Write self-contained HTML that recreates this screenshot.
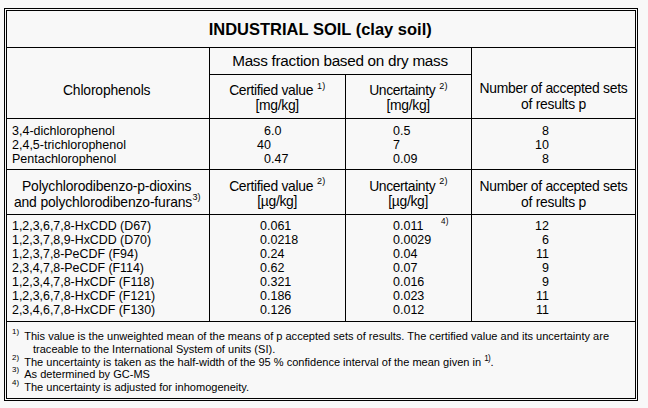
<!DOCTYPE html>
<html><head><meta charset="utf-8">
<style>
html,body{margin:0;padding:0;}
body{width:648px;height:408px;background:#f8f8f8;position:relative;overflow:hidden;font-family:"Liberation Sans",sans-serif;color:#000;}
.l{position:absolute;background:#000;}
.t{position:absolute;white-space:nowrap;}
.c{text-align:center;}
.r{text-align:right;}
.h{font-size:13.3px;line-height:15.5px;}
.h2{font-size:13.55px;line-height:15.7px;}
.d{font-size:12.5px;line-height:14px;}
.f{font-size:11.045px;line-height:12.7px;}
sup{font-size:9.05px;vertical-align:baseline;position:relative;top:-0.64em;line-height:0;margin-left:0.4px;letter-spacing:0.25px;}
.u sup{top:-6.8px;}
.f sup{font-size:7.9px;top:-6.1px;margin-left:0;letter-spacing:0;}
.ob{position:absolute;border:1px solid #000;box-sizing:border-box;}
</style></head><body>
<div class="ob" style="left:4px;top:8px;width:634px;height:393px;"></div>
<div class="ob" style="left:6px;top:10px;width:630px;height:389px;"></div>
<!-- horizontal lines -->
<div class="l" style="left:6px;top:47px;width:630px;height:1px;"></div>
<div class="l" style="left:209px;top:74px;width:263px;height:1px;"></div>
<div class="l" style="left:6px;top:118px;width:630px;height:1px;"></div>
<div class="l" style="left:6px;top:169px;width:630px;height:1px;"></div>
<div class="l" style="left:6px;top:214px;width:630px;height:1px;"></div>
<div class="l" style="left:6px;top:321px;width:630px;height:1px;"></div>
<!-- vertical lines -->
<div class="l" style="left:209px;top:47px;width:1px;height:275px;"></div>
<div class="l" style="left:345px;top:74px;width:1px;height:248px;"></div>
<div class="l" style="left:471px;top:47px;width:1px;height:275px;"></div>

<div class="t c" style="left:5.25px;width:630px;top:19.4px;font-size:16.5px;line-height:20px;font-weight:bold;">INDUSTRIAL SOIL (clay soil)</div>
<div class="t c" style="left:208.5px;width:263px;top:52.2px;font-size:15.29px;line-height:17px;letter-spacing:-0.279px;">Mass fraction based on dry mass</div>

<div class="t c h2" style="left:4.7px;width:204px;top:82.58px;font-size:13.9px;"><span style="letter-spacing:-0.169px">Chlorophenols</span></div>
<div class="t c h" style="left:208.7px;width:137px;top:82.66px;font-size:13.9px;"><span style="letter-spacing:-0.325px;position:relative;left:0.15px">Certified value <sup>1)</sup></span><br><span style="letter-spacing:-0.328px">[mg/kg]</span></div>
<div class="t c h" style="left:344.7px;width:127px;top:82.66px;font-size:13.9px;"><span style="letter-spacing:-0.38px;position:relative;left:0.25px">Uncertainty <sup>2)</sup></span><br><span style="letter-spacing:-0.328px">[mg/kg]</span></div>
<div class="t c h" style="left:471px;width:165px;top:81.05px;font-size:13.9px;"><span style="letter-spacing:-0.287px">Number of accepted sets</span><br><span style="letter-spacing:-0.242px">of results p</span></div>

<div class="t d" style="left:12px;top:124px;">3,4-dichlorophenol<br>2,4,5-trichlorophenol<br>Pentachlorophenol</div>
<div class="t d" style="left:264px;top:124px;">6.0<br><span style="margin-left:-6.95px">40</span><br>0.47</div>
<div class="t d" style="left:393px;top:124px;">0.5<br>7<br>0.09</div>
<div class="t d r" style="left:500px;width:48.9px;top:124px;">8<br>10<br>8</div>

<div class="t c h2" style="left:4.7px;width:204px;top:177.8px;line-height:16px;font-size:13.9px;"><span style="letter-spacing:-0.159px">Polychlorodibenzo-p-dioxins</span><br><span style="letter-spacing:-0.146px;position:relative;left:0.5px">and polychlorodibenzo-furans<sup style="top:-6.45px;margin-left:0.3px;letter-spacing:0">3)</sup></span></div>
<div class="t c h u" style="left:208.7px;width:137px;top:178.66px;font-size:13.9px;"><span style="letter-spacing:-0.325px;position:relative;left:0.15px">Certified value <sup>2)</sup></span><br><span style="letter-spacing:-0.304px">[µg/kg]</span></div>
<div class="t c h u" style="left:344.7px;width:127px;top:178.66px;font-size:13.9px;"><span style="letter-spacing:-0.38px;position:relative;left:0.25px">Uncertainty <sup>2)</sup></span><br><span style="letter-spacing:-0.304px">[µg/kg]</span></div>
<div class="t c h" style="left:471px;width:165px;top:178.4px;line-height:16px;font-size:13.9px;"><span style="letter-spacing:-0.287px">Number of accepted sets</span><br><span style="letter-spacing:-0.242px">of results p</span></div>

<div class="t d" style="left:12px;top:219px;font-size:12.4px;">1,2,3,6,7,8-HxCDD (D67)<br>1,2,3,7,8,9-HxCDD (D70)<br>1,2,3,7,8-PeCDF (F94)<br>2,3,4,7,8-PeCDF (F114)<br>1,2,3,4,7,8-HxCDF (F118)<br>1,2,3,6,7,8-HxCDF (F121)<br>2,3,4,6,7,8-HxCDF (F130)</div>
<div class="t d" style="left:260px;top:219px;">0.061<br>0.0218<br>0.24<br>0.62<br>0.321<br>0.186<br>0.126</div>
<div class="t d" style="left:393px;top:219px;">0.011<br>0.0029<br>0.04<br>0.07<br>0.016<br>0.023<br>0.012</div>
<div class="t" style="left:441.1px;top:217.2px;font-size:8.2px;line-height:10px;">4)</div>
<div class="t d r" style="left:500px;width:48.9px;top:219px;">12<br>6<br>11<br>9<br>9<br>11<br>11</div>

<div class="t f" style="left:12.1px;top:329.8px;"><sup>1)</sup></div>
<div class="t f" style="left:12.1px;top:355.8px;"><sup>2)</sup></div>
<div class="t f" style="left:12.1px;top:367.8px;"><sup>3)</sup></div>
<div class="t f" style="left:12.1px;top:380.8px;"><sup>4)</sup></div>
<div class="t f" style="left:24.25px;top:329.8px;">This value is the unweighted mean of the means of p accepted sets of results. The certified value and its uncertainty are</div>
<div class="t f" style="left:33px;top:342.8px;">traceable to the International System of units (SI).</div>
<div class="t f" style="left:24.25px;top:355.8px;">The uncertainty is taken as the half-width of the 95 % confidence interval of the mean given in <sup style="font-size:8.2px;letter-spacing:-0.7px;margin-right:0.4px;top:-5.2px">1)</sup>.</div>
<div class="t f" style="left:24.25px;top:367.8px;">As determined by GC-MS</div>
<div class="t f" style="left:24.25px;top:380.8px;">The uncertainty is adjusted for inhomogeneity.</div>
</body></html>
